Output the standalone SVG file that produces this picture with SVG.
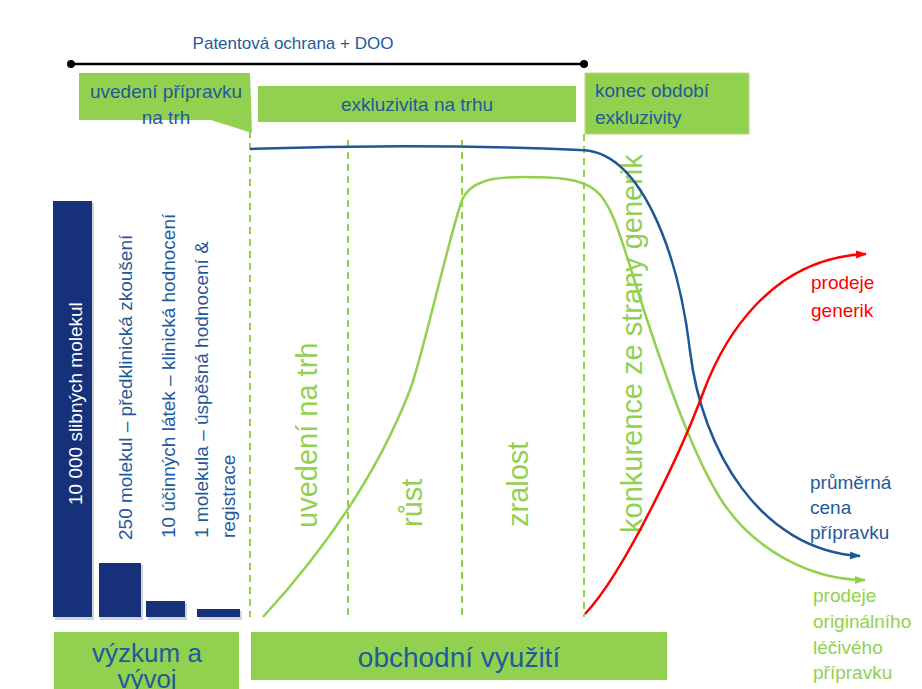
<svg xmlns="http://www.w3.org/2000/svg" width="922" height="689" viewBox="0 0 922 689">
<style>
text{font-family:"Liberation Sans",Arial,sans-serif}
.box{fill:#92d050}
.bt{fill:#1f5a9a}
.bar{fill:#16317a}
.sh{fill:#9aa0b0;opacity:.45}
.ph{fill:#92d050;font-size:29px}
.lt{fill:#1f5a9a;font-size:19px}
.dash{stroke:#92d050;stroke-width:2;stroke-dasharray:7 5;fill:none}
.cv{fill:none;stroke-width:2.5}
</style>
<defs>
<marker id="ab" markerUnits="userSpaceOnUse" markerWidth="12" markerHeight="10" refX="10" refY="5" orient="auto"><path d="M0,1 L11,5 L0,9 Z" fill="#1d5796"/></marker>
<marker id="ag" markerUnits="userSpaceOnUse" markerWidth="12" markerHeight="10" refX="10" refY="5" orient="auto"><path d="M0,1 L11,5 L0,9 Z" fill="#92d050"/></marker>
<marker id="ar" markerUnits="userSpaceOnUse" markerWidth="12" markerHeight="10" refX="10" refY="5" orient="auto"><path d="M0,1 L11,5 L0,9 Z" fill="#ff0000"/></marker>
</defs>
<rect width="922" height="689" fill="#ffffff"/>

<g id="patent">
<text x="293" y="49" text-anchor="middle" font-size="17" class="bt">Patentová ochrana + DOO</text>
<line x1="71" y1="64" x2="584" y2="64" stroke="#000" stroke-width="2.5"/>
<circle cx="71" cy="64" r="4" fill="#000"/>
<circle cx="584" cy="64" r="4" fill="#000"/>
</g>

<g id="uvedeni-pripravku">
<polygon class="box" points="79,73 250,73 252,133 211,120 79,120"/>
<text x="166" y="98" text-anchor="middle" font-size="19" class="bt">uvedení přípravku</text>
<text x="166" y="124" text-anchor="middle" font-size="19" class="bt">na trh</text>
</g>

<g id="exkluzivita">
<rect class="box" x="258" y="86" width="318" height="36"/>
<text x="417" y="111" text-anchor="middle" font-size="19" class="bt">exkluzivita na trhu</text>
</g>

<g id="konec">
<rect class="box" x="585" y="73" width="164" height="61" stroke="#b3db85" stroke-width="1"/>
<text x="595" y="97" font-size="19" class="bt">konec období</text>
<text x="595" y="124" font-size="19" class="bt">exkluzivity</text>
</g>

<g id="bars">
<rect class="sh" x="55" y="203" width="39" height="417"/>
<rect class="sh" x="100" y="565" width="43" height="55"/>
<rect class="sh" x="148" y="603" width="39" height="17"/>
<rect class="sh" x="199" y="611" width="43" height="9"/>
<rect class="bar" x="53" y="201" width="39" height="416"/>
<rect class="bar" x="99" y="563" width="42" height="54"/>
<rect class="bar" x="146" y="601" width="39" height="16"/>
<rect class="bar" x="197" y="609" width="43" height="8"/>
<text transform="translate(82,505) rotate(-90)" font-size="19" fill="#ffffff">10 000 slibných molekul</text>
<text class="lt" transform="translate(132,540) rotate(-90)">250 molekul – předklinická zkoušení</text>
<text class="lt" transform="translate(175,538) rotate(-90)">10 účinných látek – klinická hodnocení</text>
<text class="lt" transform="translate(208,538) rotate(-90)">1 molekula – úspěšná hodnocení &amp;</text>
<text class="lt" transform="translate(235,538) rotate(-90)">registrace</text>
</g>

<g id="phases">
<text class="ph" transform="translate(317,528) rotate(-90)">uvedení na trh</text>
<text class="ph" transform="translate(422,527) rotate(-90)">růst</text>
<text class="ph" transform="translate(528,527) rotate(-90)">zralost</text>
<text class="ph" transform="translate(642,533) rotate(-90)">konkurence ze strany generik</text>
</g>

<g id="connectors">
<line class="dash" x1="250" y1="131" x2="250" y2="617"/>
<line class="dash" x1="348" y1="140" x2="348" y2="617"/>
<line class="dash" x1="462" y1="140" x2="462" y2="617"/>
<line class="dash" x1="584" y1="134" x2="584" y2="617"/>
<path class="cv" stroke="#1d5796" marker-end="url(#ab)" d="M250,149 Q415,143 580,150 C640,150 678,250 690,351 C702,450 760,550 860,556"/>
<path class="cv" stroke="#92d050" marker-end="url(#ag)" d="M263,617 C320,555 375,480 410,390 C422,359 448,240 462,200 C470,182 490,177 523,177 C555,177 580,178 595,190 C612,203 620,235 640,298 C660,360 690,450 720,498 C752,549 810,580 865,580"/>
<path class="cv" stroke="#ff0000" marker-end="url(#ar)" d="M585,614 C625,572 683,447 703,393 C723,339 770,258 866,254"/>
</g>

<g id="label-generik">
<text x="811" y="289" font-size="19" fill="#ff0000">prodeje</text>
<text x="811" y="317" font-size="19" fill="#ff0000">generik</text>
</g>
<g id="label-cena">
<text x="810" y="489" font-size="19" class="bt">průměrná</text>
<text x="810" y="514" font-size="19" class="bt">cena</text>
<text x="810" y="539" font-size="19" class="bt">přípravku</text>
</g>
<g id="label-original">
<text x="813" y="602" font-size="19" fill="#92d050">prodeje</text>
<text x="813" y="628" font-size="19" fill="#92d050">originálního</text>
<text x="813" y="654" font-size="19" fill="#92d050">léčivého</text>
<text x="813" y="679" font-size="19" fill="#92d050">přípravku</text>
</g>

<g id="vyzkum">
<rect class="box" x="54" y="632" width="185" height="57"/>
<text x="147" y="662" text-anchor="middle" font-size="26" class="bt">výzkum a</text>
<text x="147" y="688" text-anchor="middle" font-size="26" class="bt">vývoj</text>
</g>
<g id="obchodni">
<rect class="box" x="251" y="632" width="416" height="48"/>
<text x="459" y="667" text-anchor="middle" font-size="28" class="bt">obchodní využití</text>
</g>
</svg>
